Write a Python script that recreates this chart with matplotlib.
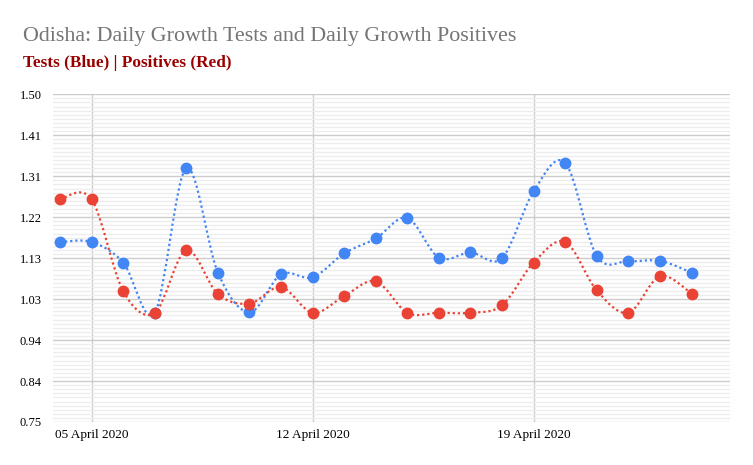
import matplotlib
matplotlib.use("Agg")
import matplotlib.pyplot as plt
import matplotlib.dates as mdates
from matplotlib.path import Path
from matplotlib.patches import PathPatch
from matplotlib.ticker import MultipleLocator
import numpy as np
import pandas as pd

dates = pd.date_range("2020-04-04", "2020-04-24")
tests = [1.162, 1.162, 1.115, 1.000, 1.331, 1.092, 1.001, 1.088, 1.081, 1.136, 1.170,
         1.217, 1.126, 1.138, 1.125, 1.278, 1.343, 1.130, 1.118, 1.119, 1.092]
positives = [1.260, 1.260, 1.050, 1.000, 1.143, 1.043, 1.021, 1.059, 1.000, 1.038, 1.072,
             1.000, 1.000, 1.000, 1.017, 1.115, 1.162, 1.051, 1.000, 1.084, 1.044]
ytick_vals = [0.75, 0.84375, 0.9375, 1.03125, 1.125, 1.21875, 1.3125, 1.40625, 1.50]
ytick_labels = ["0.75", "0.84", "0.94", "1.03", "1.13", "1.22", "1.31", "1.41", "1.50"]
xtick_dates = pd.to_datetime(["2020-04-05", "2020-04-12", "2020-04-19"])
xtick_labels = ["05 April 2020", "12 April 2020", "19 April 2020"]

BLUE = "#4285F4"
RED = "#EA4335"
SERIF = ["Liberation Serif", "DejaVu Serif"]


def smooth_path(x, y, k=1 / 6):
    # catmull-rom style bezier through the points (like curveType: function)
    x = np.asarray(x, float)
    y = np.asarray(y, float)
    verts = [(x[0], y[0])]
    codes = [Path.MOVETO]
    n = len(x)
    for i in range(n - 1):
        x0, y0 = (x[i - 1], y[i - 1]) if i > 0 else (x[i], y[i])
        x3, y3 = (x[i + 2], y[i + 2]) if i + 2 < n else (x[i + 1], y[i + 1])
        c1 = (x[i] + (x[i + 1] - x0) * k, y[i] + (y[i + 1] - y0) * k)
        c2 = (x[i + 1] - (x3 - x[i]) * k, y[i + 1] - (y3 - y[i]) * k)
        verts += [c1, c2, (x[i + 1], y[i + 1])]
        codes += [Path.CURVE4] * 3
    return Path(verts, codes)


fig = plt.figure(figsize=(7.53, 4.65), dpi=100)
ax = fig.add_axes([0.0704, 0.0925, 0.8991, 0.7047])

xn = mdates.date2num(dates)
for vals, col in [(tests, BLUE), (positives, RED)]:
    patch = PathPatch(smooth_path(xn, vals), fill=False, edgecolor=col,
                      linewidth=1.6, linestyle=(0, (1, 1.3)), zorder=3)
    ax.add_patch(patch)
    ax.plot(dates, vals, linestyle="none", marker="o", markersize=7.5,
            color=col, zorder=4)

ax.set_ylim(0.75, 1.50)
ax.set_xlim(xn[0] - 0.22, xn[0] + 21.22)
ax.set_yticks(ytick_vals)
ax.set_yticklabels(ytick_labels, family=SERIF, fontsize=9)
ax.yaxis.set_minor_locator(MultipleLocator(0.009375))
ax.set_xticks(mdates.date2num(xtick_dates))
ax.set_xticklabels(xtick_labels, family=SERIF, fontsize=9.5)

ax.grid(True, which="major", axis="both", color="#cccccc", linewidth=1)
ax.grid(True, which="minor", axis="y", color="#ededed", linewidth=1)
ax.set_axisbelow(True)
ax.tick_params(which="both", length=0)
ax.tick_params(axis="y", pad=8)
ax.tick_params(axis="x", pad=5)
for s in ax.spines.values():
    s.set_visible(False)

fig.text(0.031, 0.922, "Odisha: Daily Growth Tests and Daily Growth Positives",
         family=SERIF, fontsize=15.8, color="#757575", va="center")
fig.text(0.031, 0.864, "Tests (Blue) | Positives (Red)",
         family=SERIF, fontsize=12.4, color="#990000", fontweight="bold", va="center")

fig.savefig("out.png", dpi=100)
